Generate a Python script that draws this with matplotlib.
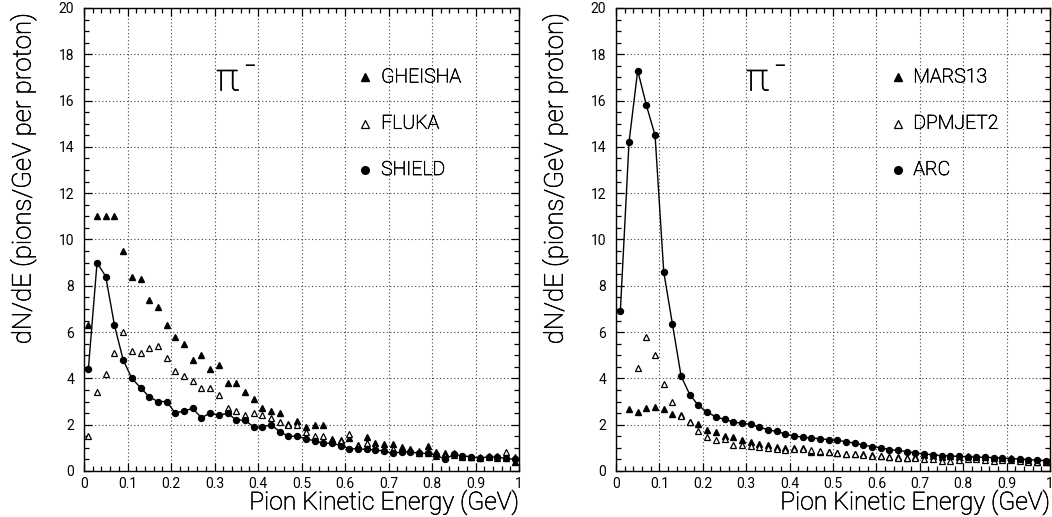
import numpy as np
import matplotlib
matplotlib.use("Agg")
import matplotlib.pyplot as plt
import matplotlib.patheffects as pe
from matplotlib import font_manager as fm
from matplotlib.ticker import MultipleLocator

# ---------------- data ----------------
energy = [round(0.01 + 0.02 * i, 2) for i in range(50)]

gheisha = [6.3, 11.0, 11.0, 11.0, 9.5, 8.4, 8.3, 7.4, 7.1, 6.3,
           5.8, 5.5, 4.8, 5.0, 4.4, 4.6, 3.8, 3.8, 3.4, 3.1,
           2.7, 2.6, 2.5, 2.05, 2.17, 1.9, 2.0, 2.0, 1.37, 1.34,
           1.43, 1.14, 1.46, 1.2, 1.17, 1.15, 1.04, 0.97, 0.78, 1.1,
           0.83, 0.76, 0.76, 0.65, 0.6, 0.55, 0.65, 0.65, 0.55, 0.4]
fluka = [1.5, 3.4, 4.2, 5.1, 6.0, 5.2, 5.1, 5.3, 5.4, 4.9,
         4.3, 4.1, 3.9, 3.6, 3.6, 3.3, 2.7, 2.6, 2.4, 2.5,
         2.4, 2.3, 2.1, 2.0, 2.0, 1.7, 1.5, 1.5, 1.3, 1.3,
         1.58, 1.1, 1.2, 1.05, 0.96, 0.95, 0.9, 0.9, 0.85, 0.78,
         0.65, 0.65, 0.7, 0.62, 0.6, 0.62, 0.6, 0.58, 0.8, 0.62]
shield = [4.4, 9.0, 8.4, 6.3, 4.8, 4.0, 3.6, 3.2, 3.0, 3.0,
          2.5, 2.6, 2.7, 2.3, 2.5, 2.4, 2.5, 2.2, 2.2, 1.9,
          1.9, 2.0, 1.7, 1.5, 1.5, 1.4, 1.3, 1.2, 1.2, 1.1,
          0.96, 0.96, 0.93, 0.91, 0.86, 0.76, 0.83, 0.83, 0.76, 0.76,
          0.69, 0.50, 0.72, 0.65, 0.62, 0.55, 0.62, 0.59, 0.55, 0.50]

energy_mars = energy[1:]
mars13 = [2.66, 2.54, 2.72, 2.76, 2.66, 2.46, 2.43, 2.13, 2.03,
          1.77, 1.67, 1.52, 1.48, 1.34, 1.24, 1.16, 1.12, 1.04, 0.98,
          0.98, 0.99, 0.81, 0.81, 0.81, 0.78, 0.75, 0.75, 0.73, 0.68,
          0.66, 0.6, 0.59, 0.58, 0.59, 0.69, 0.65, 0.62, 0.63, 0.62,
          0.63, 0.62, 0.59, 0.56, 0.58, 0.56, 0.53, 0.42, 0.37, 0.37]
energy_dpm = energy[2:]
dpmjet2 = [4.45, 5.8, 5.0, 3.75, 3.0, 2.37, 2.11, 1.71,
           1.49, 1.36, 1.37, 1.13, 1.11, 1.1, 1.04, 1.0, 0.97, 0.89,
           0.95, 0.93, 0.9, 0.85, 0.8, 0.78, 0.75, 0.72, 0.7, 0.66,
           0.64, 0.6, 0.58, 0.55, 0.56, 0.52, 0.52, 0.45, 0.45, 0.49,
           0.52, 0.52, 0.49, 0.42, 0.49, 0.46, 0.42, 0.39, 0.37, 0.37]
arc = [6.9, 14.2, 17.3, 15.8, 14.5, 8.6, 6.35, 4.1, 3.3, 2.83,
       2.54, 2.34, 2.23, 2.12, 2.06, 2.02, 1.9, 1.78, 1.71, 1.6,
       1.51, 1.47, 1.42, 1.4, 1.35, 1.32, 1.27, 1.2, 1.12, 1.05,
       1.01, 0.92, 0.89, 0.84, 0.78, 0.73, 0.71, 0.66, 0.65, 0.63,
       0.62, 0.6, 0.59, 0.58, 0.56, 0.53, 0.52, 0.49, 0.47, 0.45]

x_ticks = [0, 0.1, 0.2, 0.3, 0.4, 0.5, 0.6, 0.7, 0.8, 0.9, 1.0]
x_ticklabels = ["0", "0.1", "0.2", "0.3", "0.4", "0.5", "0.6", "0.7", "0.8", "0.9", "1"]
y_ticks = [0, 2, 4, 6, 8, 10, 12, 14, 16, 18, 20]

# ---------------- font ----------------
avail = {f.name for f in fm.fontManager.ttflist}
fam = "Roboto" if "Roboto" in avail else "Liberation Sans"
plt.rcParams["font.family"] = [fam, "DejaVu Sans"]
light = "light"
dark = [pe.withStroke(linewidth=0.45, foreground="black")]

fig = plt.figure(figsize=(10.52, 5.17), dpi=100)
axL = fig.add_axes([84 / 1052, 46 / 517, 435 / 1052, 463 / 517])
axR = fig.add_axes([616 / 1052, 46 / 517, 434 / 1052, 463 / 517])

ms_f = 5.0
ms_o = 5.0
ms_c = 4.3


def style(ax):
    ax.set_xlim(0, 1)
    ax.set_ylim(0, 20)
    ax.set_xticks(x_ticks)
    ax.set_xticklabels(x_ticklabels)
    ax.set_yticks(y_ticks)
    ax.xaxis.set_minor_locator(MultipleLocator(0.02))
    ax.yaxis.set_minor_locator(MultipleLocator(0.5))
    ax.tick_params(which="both", direction="in", top=True, right=True,
                   labelsize=10, width=0.9)
    ax.tick_params(axis="x", pad=4)
    ax.tick_params(axis="y", pad=7)
    ax.tick_params(which="major", length=6)
    ax.tick_params(which="minor", length=3.5)
    for s in ax.spines.values():
        s.set_linewidth(1.0)
    ax.grid(True, which="major", color="0.25", linestyle=(0, (1, 2.2)), linewidth=0.8)
    ax.set_axisbelow(True)
    ax.text(1.0, -0.083, "Pion Kinetic Energy (GeV)", transform=ax.transAxes,
            ha="right", va="baseline", fontsize=17.8, fontweight=light,
            path_effects=dark)
    ax.text(-0.123, 0.99, "dN/dE (pions/GeV per proton)", transform=ax.transAxes,
            rotation=90, rotation_mode="anchor", ha="right", va="baseline",
            fontsize=18.6, fontweight=light, path_effects=dark)


for ax in (axL, axR):
    style(ax)

# left panel
axL.plot(energy, gheisha, linestyle="none", marker="^", color="black", markersize=ms_f)
axL.plot(energy, fluka, linestyle="none", marker="^", markerfacecolor="white",
         markeredgecolor="black", markeredgewidth=0.9, markersize=ms_o)
axL.plot(energy, shield, linestyle="-", color="black", linewidth=1.0,
         marker="o", markersize=ms_c)

# right panel
axR.plot(energy_mars, mars13, linestyle="none", marker="^", color="black", markersize=ms_f)
axR.plot(energy_dpm, dpmjet2, linestyle="none", marker="^", markerfacecolor="white",
         markeredgecolor="black", markeredgewidth=0.9, markersize=ms_o)
axR.plot(energy, arc, linestyle="-", color="black", linewidth=1.0,
         marker="o", markersize=ms_c)


# in-plot legends
def legend(ax, names, mx, tx):
    ys = [17.0, 15.0, 13.0]
    ax.plot([mx], [ys[0]], marker="^", color="black", markersize=5.5, linestyle="none")
    ax.plot([mx], [ys[1]], marker="^", markerfacecolor="white", markeredgecolor="black",
            markeredgewidth=0.9, markersize=5.5, linestyle="none")
    ax.plot([mx], [ys[2]], marker="o", color="black", markersize=5.5, linestyle="none")
    for y, n in zip(ys, names):
        ax.text(tx, y, n, ha="left", va="center", fontsize=14, fontweight=light,
                path_effects=dark)


legend(axL, ["GHEISHA", "FLUKA", "SHIELD"], 0.645, 0.683)
legend(axR, ["MARS13", "DPMJET2", "ARC"], 0.65, 0.685)

for ax, px in ((axL, 0.303), (axR, 0.299)):
    ax.text(px, 16.9, "π", ha="left", va="center", fontsize=28, fontweight=light,
            path_effects=dark)
    ax.text(px + 0.063, 17.45, "−", ha="left", va="center", fontsize=16)

fig.savefig("out.png", dpi=100)
